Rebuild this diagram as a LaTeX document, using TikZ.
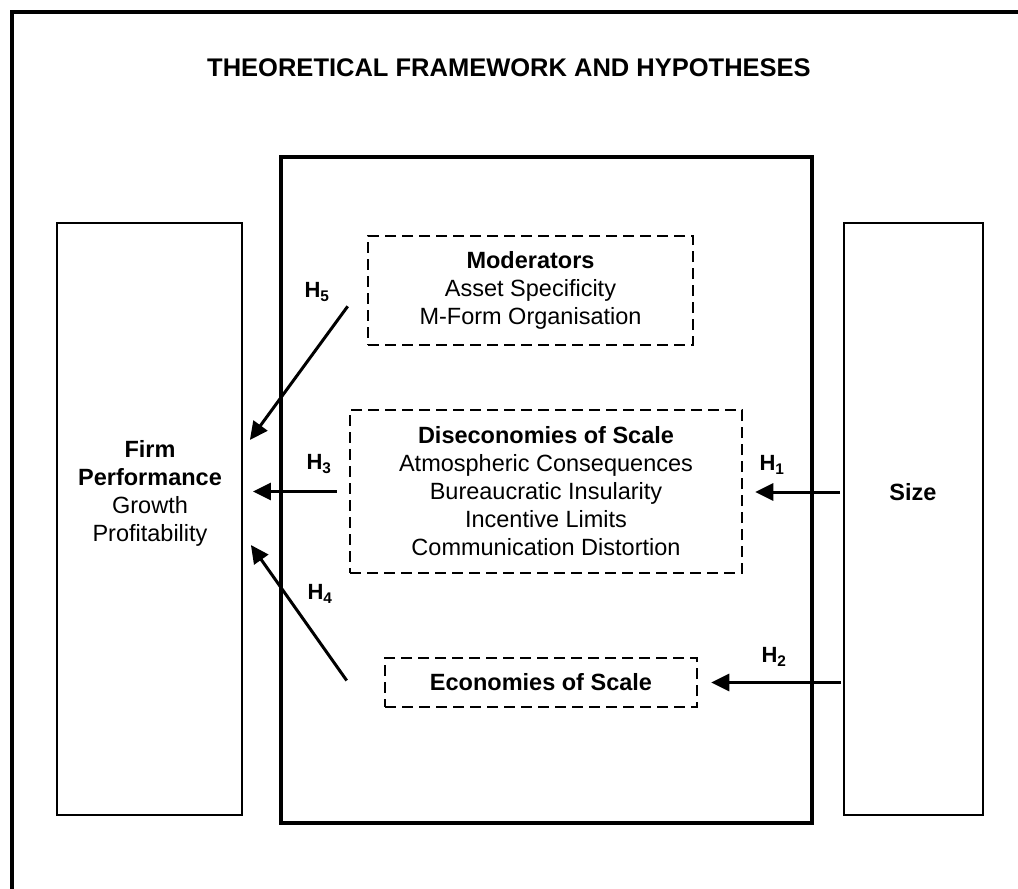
\documentclass[tikz,border=0pt]{standalone}
\usepackage{fontspec}
\setmainfont{Liberation Sans}
\usetikzlibrary{arrows.meta}

\begin{document}
\begin{tikzpicture}[x=1pt, y=-1pt,
    bodyfont/.style={font=\fontsize{23.5}{28}\selectfont},
    solidbox/.style={draw, line width=1.8pt, inner sep=0pt},
    dashbox/.style={draw, dash pattern=on 11pt off 6pt, line width=2.6pt, align=center, inner sep=0pt, bodyfont},
    hyp/.style={line width=3pt, -{Triangle[length=18pt, width=17pt]}},
    hlabel/.style={font=\fontsize{22}{26}\selectfont\bfseries}]
    \useasboundingbox (0,0) rectangle (1018,889);
    \draw[line width=3.2pt] (1030,12) -- (12,12) -- (12,900);
    \node[font=\fontsize{25.5}{30}\selectfont\bfseries] (title) at (509,68) {THEORETICAL FRAMEWORK AND HYPOTHESES};

    \node[draw, line width=4pt, inner sep=0pt, minimum width=531, minimum height=666] (org) at (546.5,490) {};
    \node[solidbox, minimum width=185, minimum height=592] (firm) at (149.5,519) {};
    \node[bodyfont, align=center] (firmtxt) at (150,493) {\textbf{Firm}\\\textbf{Performance}\\Growth\\Profitability};
    \node[solidbox, minimum width=139, minimum height=592] (size) at (913.5,519) {};
    \node[bodyfont] (sizetxt) at (913,492) {\textbf{Size}};

    \node[dashbox, minimum width=325, minimum height=109] (mod) at (530.5,290.5) {\textbf{Moderators}\\Asset Specificity\\M-Form Organisation};
    \node[dashbox, minimum width=392, minimum height=163] (dis) at (546,491.5) {\textbf{Diseconomies of Scale}\\Atmospheric Consequences\\Bureaucratic Insularity\\Incentive Limits\\Communication Distortion};
    \node[dashbox, minimum width=312, minimum height=49] (econ) at (541,682.5) {\textbf{Economies of Scale}};

    % hypotheses
    \draw[hyp] ([xshift=-3pt]size.west |- sizetxt) -- ([xshift=12pt]dis.east |- sizetxt);
    \node[hlabel] (h1) at (772,465) {H\textsubscript{1}};
    \draw[hyp] ([xshift=-2pt]size.west |- econ.east) -- ([xshift=13pt]econ.east);
    \node[hlabel] (h2) at (774,657) {H\textsubscript{2}};
    \draw[hyp] ([xshift=-12pt]dis.west) -- ([xshift=10pt]firm.east |- dis.west);
    \node[hlabel] (h3) at (319,464) {H\textsubscript{3}};
    \draw[hyp] ([xshift=-37pt,yshift=2pt]econ.west) -- ([xshift=8pt,yshift=-26pt]firm.east);
    \node[hlabel] (h4) at (320,594) {H\textsubscript{4}};
    \draw[hyp] ([xshift=-19pt,yshift=40pt]mod.south west) -- ([xshift=7pt,yshift=79pt]firm.east);
    \node[hlabel] (h5) at (317,292) {H\textsubscript{5}};
\end{tikzpicture}
\end{document}
